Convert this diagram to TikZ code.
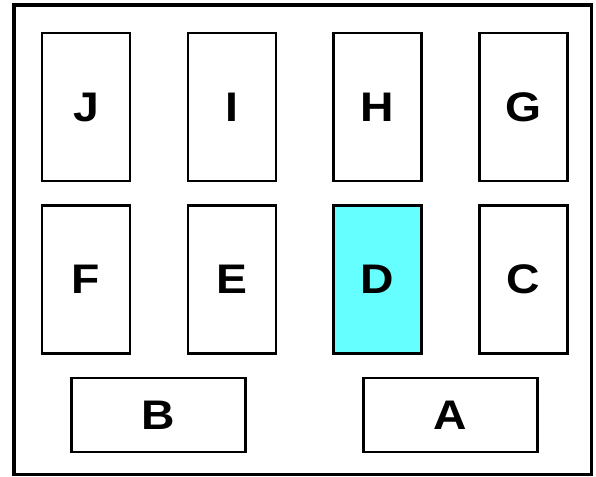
\documentclass[tikz,border=0pt]{standalone}
\usepackage{fontspec}
\setmainfont{Liberation Sans}
\newfontfamily\bayfont[FakeStretch=1.12]{Liberation Sans}
\usepackage{xcolor}
\definecolor{bayhi}{HTML}{66FFFF}

\begin{document}
\begin{tikzpicture}[
    x=0.75pt, y=-0.75pt,
    bay/.style={rectangle, draw, line width=2.2pt, minimum width=66pt, minimum height=111pt, inner sep=0pt, font=\bayfont\fontsize{31}{31}\selectfont\bfseries},
    wide/.style={bay, minimum width=131pt, minimum height=55.5pt},
    hilite/.style={fill=bayhi},
]
\useasboundingbox (0,0) rectangle (596,477);

% outer frame
\draw[line width=2.6pt] (14,5) rectangle (591.5,474.5);

% top row
\node[bay] (J) at (86, 107)    {J};
\node[bay] (I) at (232, 107)   {I};
\node[bay] (H) at (377.5, 107) {H};
\node[bay] (G) at (523.5, 107) {G};

% middle row
\node[bay]         (F) at (86, 279.5)    {F};
\node[bay]         (E) at (232, 279.5)   {E};
\node[bay, hilite] (D) at (377.5, 279.5) {D};
\node[bay]         (C) at (523.5, 279.5) {C};

% bottom row
\node[wide] (B) at (158.5, 415) {B};
\node[wide] (A) at (450.5, 415) {A};

\end{tikzpicture}
\end{document}
